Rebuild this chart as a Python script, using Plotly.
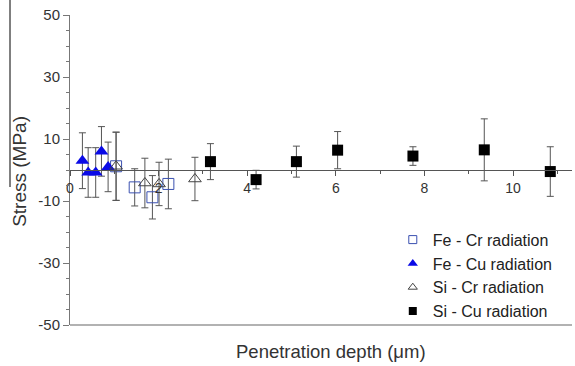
import plotly.graph_objects as go

# Fe - Cr radiation (open squares)
fe_cr_x = [1.04, 1.46, 1.86, 2.22]
fe_cr_y = [1.2, -5.6, -8.8, -4.5]
fe_cr_err = [11, 6, 7, 8]

# Fe - Cu radiation (filled blue triangles)
fe_cu_x = [0.28, 0.41, 0.58, 0.71, 0.86]
fe_cu_y = [3.0, -0.8, -0.8, 6.0, 1.0]
fe_cu_err = [9, 8, 8, 8, 8]

# Si - Cr radiation (open triangles)
si_cr_x = [1.04, 1.69, 2.01, 2.82]
si_cr_y = [1.2, -4.2, -4.5, -2.9]
si_cr_err = [11, 8, 7, 7]

# Si - Cu radiation (filled squares)
si_cu_x = [3.17, 4.2, 5.11, 6.04, 7.74, 9.35, 10.84]
si_cu_y = [2.7, -3.1, 2.7, 6.4, 4.5, 6.5, -0.5]
si_cu_err = [5.8, 3, 5, 6, 3, 10, 8]

series_names = ["Fe - Cr radiation", "Fe - Cu radiation", "Si - Cr radiation", "Si - Cu radiation"]
x_ticks = [0, 2, 4, 6, 8, 10]
x_tick_labels = ["0", "2", "4", "6", "8", "10"]
y_ticks = [-50, -30, -10, 10, 30, 50]
y_tick_labels = ["-50", "-30", "-10", "10", "30", "50"]

err_style = dict(type="data", color="#555555", thickness=1, width=3.5)

markers = [
    dict(symbol="square-open", color="#3a50b0", line=dict(width=1)),
    dict(symbol="triangle-up", color="#0a0ae6"),
    dict(symbol="triangle-up-open", color="#444444", line=dict(width=1)),
    dict(symbol="square", color="#000000"),
]
sizes = [11, 12, 11, 11]
legend_sizes = [8, 9, 8, 8]
data = [(fe_cr_x, fe_cr_y, fe_cr_err), (fe_cu_x, fe_cu_y, fe_cu_err),
        (si_cr_x, si_cr_y, si_cr_err), (si_cu_x, si_cu_y, si_cu_err)]

fig = go.Figure()
for i, (xs, ys, es) in enumerate(data):
    fig.add_trace(go.Scatter(
        x=xs, y=ys, mode="markers", name=series_names[i], showlegend=False,
        error_y=dict(array=es, **err_style),
        marker=dict(size=sizes[i], **markers[i])))
# legend-only entries with smaller symbols
for i in range(4):
    fig.add_trace(go.Scatter(
        x=[None], y=[None], mode="markers", name=series_names[i],
        legendgroup=str(i), marker=dict(size=legend_sizes[i], **markers[i])))

font_family = "Liberation Sans, Arial, sans-serif"

fig.update_layout(
    width=575, height=366,
    margin=dict(l=70, r=3, t=15, b=41),
    paper_bgcolor="white", plot_bgcolor="white",
    font=dict(family=font_family, size=13, color="#333333"),
    showlegend=True,
    legend=dict(x=0.643, y=0.33, xanchor="left", yanchor="top",
                bgcolor="rgba(0,0,0,0)", font=dict(size=16, color="#222222"),
                tracegroupgap=0),
    xaxis=dict(range=[0, 11.33], anchor="free", position=0.5,
               showline=True, linecolor="#555555", linewidth=1,
               ticks="outside", ticklen=5, tickcolor="#555555",
               tickvals=x_ticks, ticktext=x_tick_labels, showgrid=False, zeroline=False,
               minor=dict(dtick=1, ticklen=3, tickcolor="#555555", ticks="outside"),
               tickfont=dict(size=14, color="#333333")),
    yaxis=dict(range=[-50, 50], showline=True, linecolor="#777777", linewidth=1,
               ticks="outside", ticklen=6, tickcolor="#777777",
               tickvals=y_ticks, ticktext=y_tick_labels, showgrid=False, zeroline=False,
               minor=dict(dtick=5, ticklen=3, tickcolor="#777777", ticks="outside"),
               tickfont=dict(size=15, color="#333333")),
    shapes=[
        dict(type="line", xref="paper", yref="paper", x0=0, x1=1, y0=0, y1=0,
             line=dict(color="#999999", width=1.5)),
        dict(type="line", xref="paper", yref="paper", x0=-0.1195, x1=-0.1195,
             y0=(325 - 0) / 310, y1=(325 - 187) / 310,
             line=dict(color="#000000", width=1)),
    ],
    annotations=[
        dict(text="Penetration depth (μm)", xref="paper", yref="paper",
             x=0.52, y=-0.087, xanchor="center", yanchor="middle", showarrow=False,
             font=dict(size=18.5, color="#333333")),
        dict(text="Stress (MPa)", xref="paper", yref="paper", textangle=-90,
             x=-0.0996, y=0.494, xanchor="center", yanchor="middle", showarrow=False,
             font=dict(size=19, color="#333333")),
    ],
)

fig.write_html("out.html", config={"displayModeBar": False},
               post_script="document.body.style.margin='0';")
